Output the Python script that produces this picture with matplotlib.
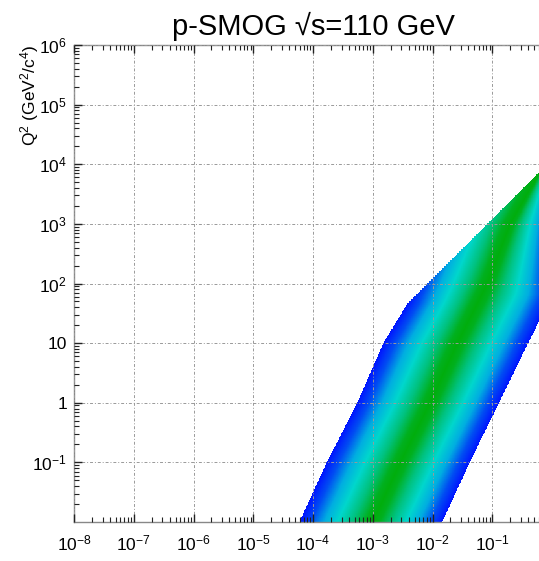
import numpy as np
import matplotlib
matplotlib.use("Agg")
import matplotlib.pyplot as plt
from matplotlib.colors import LinearSegmentedColormap
from matplotlib.ticker import FixedLocator, LogLocator, NullFormatter

plt.rcParams['font.family'] = ['Liberation Sans', 'DejaVu Sans']
plt.rcParams['mathtext.fontset'] = 'custom'
plt.rcParams['mathtext.rm'] = 'Liberation Sans'
plt.rcParams['mathtext.it'] = 'Liberation Sans:italic'
plt.rcParams['mathtext.bf'] = 'Liberation Sans:bold'

# band edges (x, Q^2)
left_x = [5.9e-5, 1.7e-4, 5.5e-4, 1.5e-3, 3.8e-3, 1.5e-2, 4.1e-2]
left_q2 = [1e-2, 1e-1, 1, 10, 46, 1e3, 1e4]
top_x = [3.8e-3, 1e-2, 1e-1, 1.0]
top_q2 = [46, 121, 1210, 12100]
right_x = [1.45e-2, 4.2e-2, 0.13, 0.4, 1.0]
right_q2 = [1e-2, 1e-1, 1, 10, 65]
center_x = [1e-3, 2.9e-3, 9.1e-3, 2.6e-2, 8.3e-2, 0.2, 0.74]
center_q2 = [1e-2, 1e-1, 1, 10, 100, 1e3, 1e4]

xticks = [1e-8, 1e-7, 1e-6, 1e-5, 1e-4, 1e-3, 1e-2, 1e-1, 1]
xtick_labels = ['$10^{-8}$', '$10^{-7}$', '$10^{-6}$', '$10^{-5}$', '$10^{-4}$',
                '$10^{-3}$', '$10^{-2}$', '$10^{-1}$', '']
yticks = [1e-1, 1, 10, 1e2, 1e3, 1e4, 1e5, 1e6]
ytick_labels = ['$10^{-1}$', '1', '10', '$10^{2}$', '$10^{3}$', '$10^{4}$', '$10^{5}$', '$10^{6}$']

# colour field across the band: 0 at the centre line, 1 at the outer edges
lx = np.linspace(-4.6, 0, 700)
lq = np.linspace(-2, 6, 700)
LX, LQ = np.meshgrid(lx, lq)
L = np.interp(LQ, np.log10(left_q2), np.log10(left_x))
R = np.interp(LQ, np.log10(right_q2), np.log10(right_x))
C = np.interp(LQ, np.log10(center_q2), np.log10(center_x))
T = np.interp(LX, np.log10(top_x), np.log10(top_q2))
t = np.where(LX < C, (C - LX) / (C - L), (LX - C) / (R - C))
t = np.ma.masked_where((LX < L) | (LX > R) | (LQ > T), t)

cmap = LinearSegmentedColormap.from_list('band', [
    (0.0, (0.0, 0.68, 0.05)),
    (0.1, (0.0, 0.69, 0.12)),
    (0.28, (0.0, 0.76, 0.5)),
    (0.48, (0.0, 0.84, 0.8)),
    (0.66, (0.0, 0.68, 0.88)),
    (0.84, (0.0, 0.3, 0.95)),
    (1.0, (0.0, 0.08, 1.0)),
])

fig = plt.figure(figsize=(5.39, 5.61), dpi=100)
ax = fig.add_axes([74/539, 39/561, 478/539, 477/561])
ax.pcolormesh(10**LX, 10**LQ, t, cmap=cmap, vmin=0, vmax=1, shading='auto', zorder=1, rasterized=True)

ax.set_xscale('log')
ax.set_yscale('log')
ax.set_xlim(1e-8, 1)
ax.set_ylim(1e-2, 1e6)

ax.xaxis.set_major_locator(FixedLocator(xticks))
ax.set_xticklabels(xtick_labels)
ax.yaxis.set_major_locator(FixedLocator(yticks))
ax.set_yticklabels(ytick_labels)
ax.xaxis.set_minor_locator(LogLocator(base=10, subs=np.arange(2, 10), numticks=20))
ax.yaxis.set_minor_locator(LogLocator(base=10, subs=np.arange(2, 10), numticks=20))
ax.xaxis.set_minor_formatter(NullFormatter())
ax.yaxis.set_minor_formatter(NullFormatter())

ax.tick_params(which='both', direction='in', top=True, right=True, color='#222222')
ax.tick_params(which='major', length=6, width=1.0, labelsize=12.5)
ax.tick_params(which='minor', length=3.5, width=0.8)
ax.tick_params(axis='x', which='major', pad=8)
ax.tick_params(axis='y', which='major', pad=5)

ax.set_axisbelow(False)
ax.grid(True, which='major', color='#999999', linestyle=(0, (3, 2, 1, 2)), linewidth=0.7)
for s in ax.spines.values():
    s.set_color('#888888')
    s.set_linewidth(1.0)

ax.set_title('p-SMOG \u221as=110 GeV', fontsize=21, pad=7)
ax.set_ylabel('Q$^{2}$ (GeV$^{2}$/c$^{4}$)', fontsize=12.5, loc='top')
ax.yaxis.set_label_coords(-0.07, 1.0)

fig.savefig('out.png', dpi=100)
